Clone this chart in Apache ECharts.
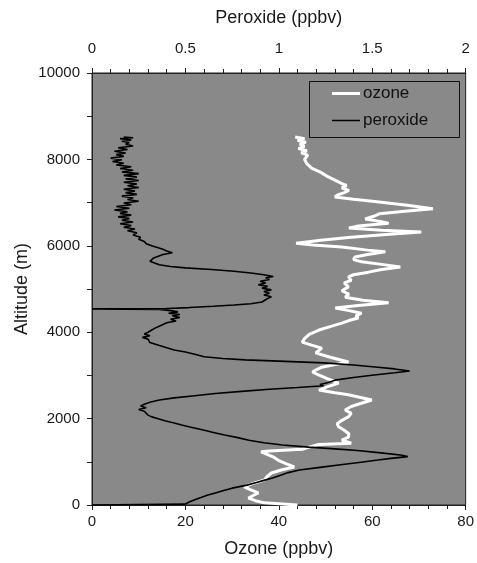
<!DOCTYPE html>
<html>
<head>
<meta charset="utf-8">
<title>Ozone and peroxide profile</title>
<script src="https://cdn.jsdelivr.net/npm/echarts@6/dist/echarts.min.js"></script>
<style>
  html, body { margin: 0; padding: 0; background: #fff; }
  #chart { width: 477px; height: 563px; }
</style>
</head>
<body>
<div id="chart"></div>
<script>
// Vertical profile: altitude (m) paired with mixing ratio (ppbv)
const ozoneAlt = [8520, 8480, 8440, 8400, 8350, 8300, 8250, 8200, 8150, 8100, 8000, 7900, 7800, 7700, 7600, 7520, 7440, 7400, 7340, 7280, 7230, 7170, 7130, 7080, 7020, 6940, 6860, 6800, 6740, 6690, 6620, 6560, 6520, 6460, 6410, 6360, 6320, 6260, 6200, 6130, 6060, 6010, 5970, 5900, 5860, 5800, 5740, 5680, 5630, 5570, 5510, 5450, 5390, 5330, 5280, 5200, 5140, 5050, 4960, 4880, 4810, 4740, 4680, 4620, 4560, 4500, 4440, 4380, 4330, 4270, 4210, 4130, 4050, 3950, 3850, 3770, 3700, 3630, 3570, 3520, 3420, 3310, 3250, 3190, 3130, 3080, 3010, 2940, 2880, 2820, 2740, 2660, 2600, 2550, 2490, 2430, 2350, 2280, 2200, 2120, 2040, 1960, 1880, 1810, 1730, 1650, 1570, 1500, 1430, 1400, 1340, 1290, 1250, 1230, 1170, 1100, 1040, 960, 880, 810, 740, 660, 580, 500, 420, 350, 280, 220, 160, 100, 50, 20, 0];
const ozoneVal = [43.5, 45.5, 44.0, 45.8, 44.5, 45.5, 44.2, 46.0, 44.8, 46.2, 45.5, 46.0, 47.0, 49.0, 50.5, 52.0, 53.5, 54.5, 53.5, 55.0, 54.0, 52.5, 52.0, 56.0, 61.0, 67.5, 73.0, 67.0, 61.5, 60.5, 58.5, 62.0, 63.5, 57.0, 55.0, 62.0, 70.5, 63.0, 55.5, 49.0, 43.7, 48.0, 53.5, 59.0, 62.8, 59.0, 56.3, 56.0, 57.7, 62.0, 66.0, 62.0, 59.2, 56.0, 54.9, 55.5, 54.0, 54.9, 53.5, 55.0, 54.2, 58.0, 63.5, 57.0, 52.1, 55.0, 57.7, 56.5, 57.0, 55.0, 53.5, 51.0, 48.6, 46.5, 45.5, 45.0, 47.0, 49.2, 48.5, 47.9, 51.0, 54.9, 52.0, 49.2, 48.0, 47.2, 48.5, 50.0, 51.5, 52.8, 50.5, 48.6, 52.0, 54.9, 57.5, 59.9, 57.5, 55.5, 54.2, 55.5, 54.9, 53.5, 52.5, 52.8, 54.0, 55.0, 54.9, 53.5, 55.5, 48.5, 46.5, 45.0, 38.0, 36.2, 37.5, 39.0, 39.8, 41.5, 43.3, 40.5, 38.4, 37.5, 36.9, 34.5, 32.6, 34.0, 35.6, 34.5, 33.5, 35.0, 36.9, 37.0, 44.0];

const peroxideAlt = [8520, 8500, 8480, 8450, 8420, 8390, 8350, 8310, 8270, 8230, 8190, 8150, 8110, 8070, 8030, 7990, 7950, 7910, 7870, 7830, 7790, 7750, 7710, 7670, 7630, 7590, 7550, 7510, 7470, 7430, 7390, 7350, 7310, 7270, 7230, 7190, 7150, 7110, 7070, 7030, 6990, 6950, 6910, 6870, 6830, 6790, 6750, 6710, 6670, 6630, 6590, 6550, 6510, 6470, 6430, 6390, 6350, 6300, 6250, 6200, 6150, 6100, 6050, 6000, 5960, 5920, 5880, 5840, 5800, 5760, 5720, 5680, 5640, 5600, 5560, 5520, 5490, 5450, 5410, 5370, 5330, 5290, 5260, 5220, 5180, 5140, 5100, 5060, 5020, 4980, 4940, 4900, 4860, 4820, 4780, 4740, 4700, 4660, 4630, 4600, 4570, 4550, 4540, 4525, 4500, 4470, 4440, 4410, 4380, 4340, 4300, 4260, 4220, 4180, 4140, 4100, 4050, 4000, 3960, 3920, 3880, 3840, 3800, 3760, 3720, 3680, 3640, 3590, 3540, 3480, 3430, 3390, 3360, 3330, 3290, 3240, 3190, 3150, 3100, 3060, 3010, 2950, 2890, 2830, 2790, 2760, 2720, 2680, 2630, 2580, 2530, 2480, 2430, 2380, 2330, 2290, 2250, 2210, 2170, 2130, 2080, 2040, 2000, 1950, 1900, 1850, 1800, 1740, 1680, 1620, 1560, 1500, 1440, 1390, 1340, 1300, 1260, 1200, 1150, 1120, 1080, 1040, 990, 930, 870, 810, 750, 690, 630, 570, 520, 460, 390, 330, 280, 230, 170, 120, 70, 20, 0];
const peroxideVal = [0.17, 0.22, 0.15, 0.21, 0.16, 0.20, 0.18, 0.22, 0.14, 0.19, 0.12, 0.18, 0.13, 0.17, 0.10, 0.16, 0.11, 0.17, 0.13, 0.21, 0.15, 0.22, 0.16, 0.25, 0.17, 0.24, 0.18, 0.25, 0.17, 0.24, 0.19, 0.25, 0.17, 0.23, 0.18, 0.24, 0.16, 0.22, 0.19, 0.25, 0.17, 0.21, 0.13, 0.20, 0.12, 0.19, 0.15, 0.21, 0.14, 0.20, 0.16, 0.22, 0.15, 0.21, 0.17, 0.23, 0.19, 0.24, 0.22, 0.26, 0.25, 0.28, 0.29, 0.32, 0.35, 0.38, 0.40, 0.43, 0.38, 0.37, 0.33, 0.33, 0.31, 0.32, 0.36, 0.42, 0.50, 0.64, 0.76, 0.85, 0.92, 0.97, 0.93, 0.95, 0.90, 0.93, 0.89, 0.94, 0.91, 0.96, 0.92, 0.95, 0.92, 0.96, 0.94, 0.95, 0.91, 0.85, 0.76, 0.65, 0.52, 0.40, 0.0, 0.36, 0.42, 0.46, 0.41, 0.47, 0.43, 0.47, 0.42, 0.45, 0.40, 0.38, 0.36, 0.34, 0.32, 0.30, 0.28, 0.31, 0.27, 0.30, 0.29, 0.31, 0.34, 0.37, 0.40, 0.44, 0.50, 0.56, 0.60, 0.70, 0.82, 1.00, 1.24, 1.40, 1.53, 1.62, 1.70, 1.62, 1.51, 1.40, 1.30, 1.26, 1.22, 1.24, 1.10, 0.95, 0.80, 0.66, 0.55, 0.44, 0.36, 0.31, 0.28, 0.26, 0.29, 0.25, 0.28, 0.27, 0.30, 0.32, 0.35, 0.39, 0.44, 0.48, 0.53, 0.59, 0.65, 0.71, 0.78, 0.84, 0.92, 1.02, 1.16, 1.30, 1.42, 1.56, 1.66, 1.69, 1.60, 1.53, 1.44, 1.33, 1.22, 1.11, 1.05, 1.01, 0.97, 0.92, 0.88, 0.83, 0.75, 0.70, 0.66, 0.62, 0.58, 0.55, 0.52, 0.50, 0.0];

// Axis ranges and tick steps
const ozoneAxis = { min: 0, max: 80, interval: 20 };
const peroxideAxis = { min: 0, max: 2, interval: 0.5 };
const altitudeAxis = { min: 0, max: 10000, interval: 2000 };

const ozoneData = ozoneAlt.map((a, i) => [ozoneVal[i], a]);
const peroxideData = peroxideAlt.map((a, i) => [peroxideVal[i], a]);

const FONT = '"Liberation Sans", Arial, sans-serif';
const labelStyle = { color: '#1a1a1a', fontSize: 15, fontFamily: FONT };
const nameStyle = { color: '#1a1a1a', fontSize: 18, fontFamily: FONT };
const legendText = { color: '#111', fontSize: 17, fontFamily: FONT };
const lineStyle = { color: '#222', width: 1 };

function legendEntry(name, top, thickness) {
  return {
    left: 332, top: top,
    orient: 'vertical',
    padding: 0,
    icon: 'rect',
    itemWidth: 28,
    itemHeight: thickness,
    selectedMode: false,
    textStyle: Object.assign({ padding: [0, 0, 0, -2] }, legendText),
    data: [name]
  };
}

const chart = echarts.init(document.getElementById('chart'), null, { renderer: 'canvas' });
chart.setOption({
  animation: false,
  backgroundColor: '#ffffff',
  grid: {
    left: 92, right: 9, top: 73, bottom: 58,
    show: true,
    backgroundColor: '#898989',
    borderColor: '#222',
    borderWidth: 1
  },
  legend: [
    legendEntry('ozone', 85, 3),
    legendEntry('peroxide', 112, 1.5)
  ],
  graphic: [
    {
      type: 'rect', left: 307, top: 79, z: 10,
      shape: { width: 150, height: 56 },
      style: { fill: 'none', stroke: '#111', lineWidth: 1 }
    }
  ],
  xAxis: [
    {
      type: 'value', position: 'bottom',
      min: ozoneAxis.min, max: ozoneAxis.max, interval: ozoneAxis.interval,
      name: 'Ozone (ppbv)', nameLocation: 'middle', nameGap: 35,
      nameTextStyle: nameStyle,
      axisLine: { show: true, lineStyle },
      axisTick: { show: true, inside: false, length: 5, lineStyle },
      minorTick: { show: true, splitNumber: 5, length: 4, lineStyle },
      axisLabel: Object.assign({ margin: 9 }, labelStyle),
      splitLine: { show: false }
    },
    {
      type: 'value', position: 'top',
      min: peroxideAxis.min, max: peroxideAxis.max, interval: peroxideAxis.interval,
      name: 'Peroxide (ppbv)', nameLocation: 'middle', nameGap: 46,
      nameTextStyle: nameStyle,
      axisLine: { show: true, lineStyle },
      axisTick: { show: true, inside: false, length: 5, lineStyle },
      minorTick: { show: true, splitNumber: 5, length: 4, lineStyle },
      axisLabel: Object.assign({ margin: 17 }, labelStyle),
      splitLine: { show: false }
    }
  ],
  yAxis: [
    {
      type: 'value',
      min: altitudeAxis.min, max: altitudeAxis.max, interval: altitudeAxis.interval,
      name: 'Altitude (m)', nameLocation: 'middle', nameGap: 61, nameRotate: 90,
      nameMoveOverlap: false,
      nameTextStyle: nameStyle,
      axisLine: { show: true, lineStyle },
      axisTick: { show: true, inside: false, length: 5, lineStyle },
      minorTick: { show: true, splitNumber: 2, length: 5, lineStyle },
      axisLabel: Object.assign({ margin: 12, formatter: v => String(v) }, labelStyle),
      splitLine: { show: false }
    }
  ],
  series: [
    {
      name: 'ozone', type: 'line', xAxisIndex: 0, yAxisIndex: 0,
      data: ozoneData,
      symbol: 'none', smooth: false,
      lineStyle: { color: '#ffffff', width: 3 },
      itemStyle: { color: '#ffffff' },
      z: 2
    },
    {
      name: 'peroxide', type: 'line', xAxisIndex: 1, yAxisIndex: 0,
      data: peroxideData,
      symbol: 'none', smooth: false,
      lineStyle: { color: '#000000', width: 1.6 },
      itemStyle: { color: '#000000' },
      z: 3
    }
  ]
});
</script>
</body>
</html>
